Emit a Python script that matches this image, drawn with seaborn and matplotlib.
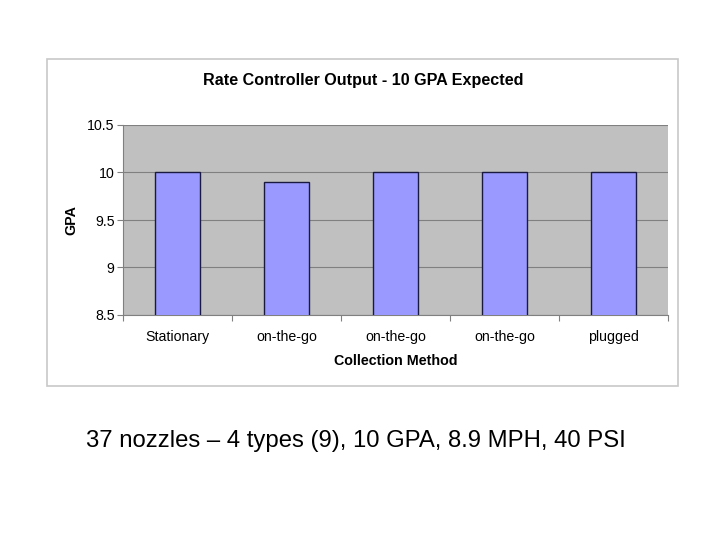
import matplotlib
matplotlib.use("Agg")
import matplotlib.pyplot as plt
import seaborn as sns
import pandas as pd
import numpy as np
from matplotlib.patches import Rectangle

categories = ["Stationary", "on-the-go", "on-the-go", "on-the-go", "plugged"]
gpa_values = [10.0, 9.9, 10.0, 10.0, 10.0]
y_ticks = [8.5, 9, 9.5, 10, 10.5]
y_tick_labels = ["8.5", "9", "9.5", "10", "10.5"]
title = "Rate Controller Output - 10 GPA Expected"
x_label = "Collection Method"
y_label = "GPA"
caption = "37 nozzles \u2013 4 types (9), 10 GPA, 8.9 MPH, 40 PSI"

sns.set_theme(style="white")
plt.rcParams["font.family"] = ["Liberation Sans", "DejaVu Sans"]
plt.rcParams["text.color"] = "black"
plt.rcParams["axes.labelcolor"] = "black"
plt.rcParams["xtick.color"] = "black"
plt.rcParams["ytick.color"] = "black"

fig = plt.figure(figsize=(7.2, 5.4), dpi=100)
fig.patch.set_facecolor("white")

# chart frame
fig.patches.append(Rectangle((47/720, 1-386/540), 631/720, 327/540,
                             transform=fig.transFigure, fill=False,
                             edgecolor="#c8c8c8", linewidth=1.2))

ax = fig.add_axes([123/720, 1-315/540, 545/720, 190/540])
df = pd.DataFrame({"pos": [f"c{i}" for i in range(len(categories))],
                   "gpa": gpa_values})
sns.barplot(data=df, x="pos", y="gpa", ax=ax, color="#9999FF",
            saturation=1, width=0.405, edgecolor="#1a1a40", linewidth=1.0,
            zorder=3)
ax.set_facecolor("#C0C0C0")
ax.set_ylim(8.5, 10.5)
ax.set_xlim(-0.5, len(categories)-0.5)
ax.set_yticks(y_ticks)
ax.set_yticklabels(y_tick_labels)
ax.set_xticks(range(len(categories)))
ax.set_xticklabels(categories)
ax.set_xticks(np.arange(-0.5, len(categories), 1.0), minor=True)
ax.tick_params(axis="x", which="major", bottom=False, length=0, labelsize=10.2,
               pad=11, labelcolor="black")
ax.tick_params(axis="x", which="minor", bottom=True, length=4, color="#808080",
               width=0.8, direction="out")
ax.tick_params(axis="y", which="major", left=True, length=4, color="#808080", width=0.8,
               direction="out", labelsize=10.2, pad=2, labelcolor="black")
ax.yaxis.grid(True, color="#808080", linewidth=0.8, zorder=1)
ax.set_axisbelow(True)
for side in ["top", "right"]:
    ax.spines[side].set_visible(False)
for side in ["left", "bottom"]:
    ax.spines[side].set_color("#808080")
    ax.spines[side].set_linewidth(0.8)
ax.set_xlabel(x_label, fontsize=10.3, fontweight="bold", labelpad=7, color="black")
ax.set_ylabel(y_label, fontsize=10.3, fontweight="bold", labelpad=6, color="black")

fig.text(363/720, 1-81/540, title, ha="center", va="center",
         fontsize=11.6, fontweight="bold", color="black")
fig.text(86/720, 1-441/540, caption, ha="left", va="center", fontsize=17.2, color="black")

fig.savefig("out.png", dpi=100)
